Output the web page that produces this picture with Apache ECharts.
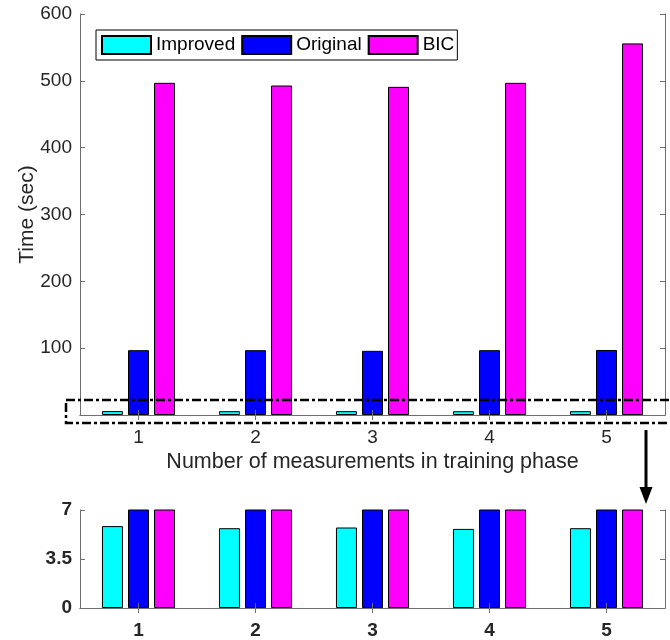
<!DOCTYPE html>
<html>
<head>
<meta charset="utf-8">
<script src="https://cdn.jsdelivr.net/npm/echarts@6/dist/echarts.min.js"></script>
<style>html,body{margin:0;padding:0;background:#fff}#c{width:670px;height:640px}</style>
</head>
<body>
<div id="c"></div>
<script>
var categories = ['1', '2', '3', '4', '5'];
var improved = [5.85, 5.7, 5.75, 5.65, 5.7];
var original = [97, 97, 96, 97, 97.3];
var bic = [497, 493, 491, 497, 556];
var topTicks = [0, 100, 200, 300, 400, 500, 600];
var bottomTicks = [0, 3.5, 7];
var seriesNames = ['Improved', 'Original', 'BIC'];

var FONT = 'Liberation Sans';
var TXT = '#262626';
var AX = '#6e6e6e';
var colors = ['#00FFFF', '#0000FF', '#FF00FF'];
var dataSets = [improved, original, bic];

var chart = echarts.init(document.getElementById('c'), null, {renderer: 'canvas'});

function xAx(grid, pos, showLabel, bold, name) {
  return {
    type: 'category', gridIndex: grid, position: pos, data: categories, z: 5,
    axisLine: {show: true, lineStyle: {color: AX, width: 1}},
    axisTick: {show: true, inside: true, alignWithLabel: true, length: 5, lineStyle: {color: AX}},
    axisLabel: {show: showLabel, color: TXT, fontFamily: FONT, fontSize: 19, fontWeight: bold ? 'bold' : 'normal', margin: 13},
    name: name || '', nameLocation: 'middle', nameGap: 36, nameMoveOverlap: false,
    nameTextStyle: {color: TXT, fontFamily: FONT, fontSize: 21.5}
  };
}
function yAx(grid, pos, showLabel, max, interval, bold, name, hideZero) {
  return {
    type: 'value', gridIndex: grid, position: pos, min: 0, max: max, interval: interval, z: 5,
    splitLine: {show: false},
    axisLine: {show: true, lineStyle: {color: AX, width: 1}},
    axisTick: {show: true, inside: true, length: 5, lineStyle: {color: AX}},
    axisLabel: {show: showLabel, color: TXT, fontFamily: FONT, fontSize: 19, fontWeight: bold ? 'bold' : 'normal', margin: 8,
      formatter: function (v) { if (hideZero && v === 0) return ''; return String(v); }},
    name: name || '', nameLocation: 'middle', nameGap: 42, nameRotate: 90, nameMoveOverlap: false,
    nameTextStyle: {color: TXT, fontFamily: FONT, fontSize: 21}
  };
}

var series = [];
for (var g = 0; g < 2; g++) {
  for (var s = 0; s < 3; s++) {
    series.push({
      type: 'bar', name: seriesNames[s], xAxisIndex: g * 2, yAxisIndex: g * 2,
      data: dataSets[s], barWidth: 21, barGap: '24%', clip: true,
      itemStyle: {color: colors[s], borderColor: '#000', borderWidth: 1},
      emphasis: {disabled: true}
    });
  }
}

chart.setOption({
  animation: false,
  backgroundColor: '#fff',
  textStyle: {fontFamily: FONT},
  grid: [
    {left: 80, top: 14, width: 585, height: 401},
    {left: 80, top: 510, width: 585, height: 99}
  ],
  legend: {
    data: seriesNames, left: 96, top: 30, orient: 'horizontal',
    padding: [5, 3, 5, 5], itemGap: 6, itemWidth: 49, itemHeight: 18,
    borderColor: '#000', borderWidth: 1, backgroundColor: '#fff',
    icon: 'rect', selectedMode: false,
    textStyle: {color: '#000', fontFamily: FONT, fontSize: 19}
  },
  xAxis: [
    xAx(0, 'bottom', true, false, 'Number of measurements in training phase'),
    xAx(0, 'top', false, false),
    xAx(1, 'bottom', true, true),
    xAx(1, 'top', false, true)
  ],
  yAxis: [
    yAx(0, 'left', true, topTicks[topTicks.length - 1], topTicks[1] - topTicks[0], false, 'Time (sec)', true),
    yAx(0, 'right', false, topTicks[topTicks.length - 1], topTicks[1] - topTicks[0], false),
    yAx(1, 'left', true, bottomTicks[bottomTicks.length - 1], bottomTicks[1] - bottomTicks[0], true),
    yAx(1, 'right', false, bottomTicks[bottomTicks.length - 1], bottomTicks[1] - bottomTicks[0], true)
  ],
  series: series,
  graphic: [
    {type: 'rect', z: 100, shape: {x: 66, y: 400, width: 640, height: 23},
     style: {fill: 'none', stroke: '#000', lineWidth: 2.5, lineDash: [9, 3, 3, 3]}},
    {type: 'line', z: 100, shape: {x1: 646, y1: 430, x2: 646, y2: 492},
     style: {stroke: '#000', lineWidth: 3}},
    {type: 'polygon', z: 100, shape: {points: [[639.5, 487], [652.5, 487], [646, 504]]},
     style: {fill: '#000'}}
  ]
});
</script>
</body>
</html>
